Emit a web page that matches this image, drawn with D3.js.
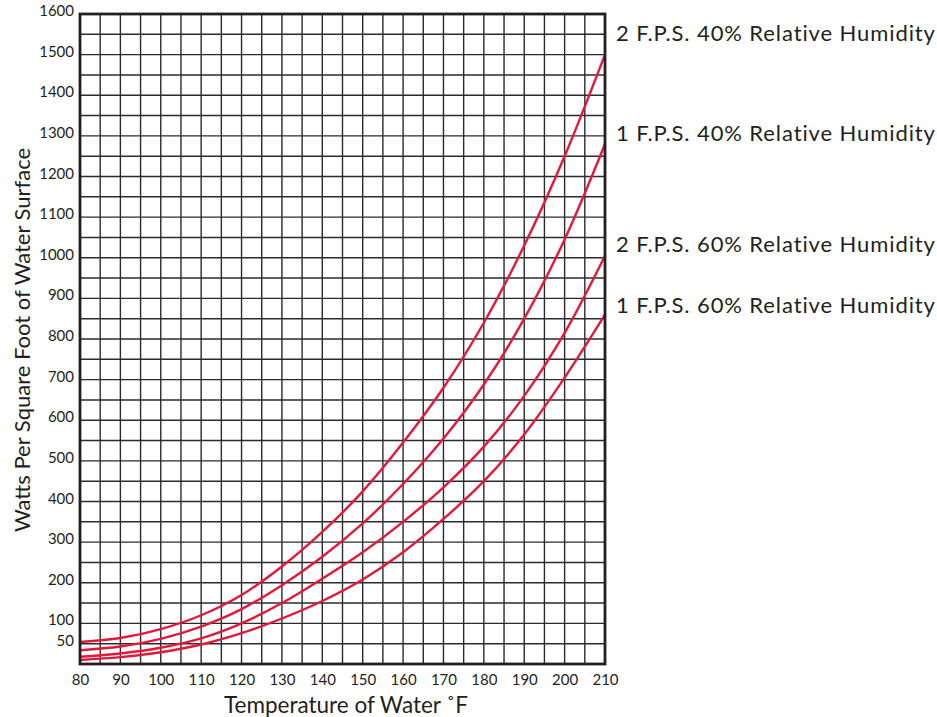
<!DOCTYPE html>
<html>
<head>
<meta charset="utf-8">
<script src="https://cdn.jsdelivr.net/npm/d3@7"></script>
<style>
  html, body { margin: 0; padding: 0; background: #fff; }
  svg { display: block; }
  text { font-family: Lato, "Open Sans", sans-serif; fill: #231f20; }
</style>
</head>
<body>
<svg id="chart" width="937" height="717"></svg>
<script>
// ---- data ----
const temps = [80, 90, 100, 110, 120, 130, 140, 150, 160, 170, 180, 190, 200, 210];
const fps2rh40 = [54, 64, 86, 120, 170, 240, 325, 425, 545, 680, 840, 1030, 1250, 1500];
const fps1rh40 = [34, 43, 62, 92, 135, 194, 264, 346, 443, 555, 688, 850, 1045, 1280];
const fps2rh60 = [18, 26, 40, 63, 100, 150, 210, 275, 350, 435, 535, 660, 815, 1005];
const fps1rh60 = [10, 17, 29, 48, 76, 112, 155, 208, 275, 357, 450, 565, 705, 860];
const seriesNames = ["2 F.P.S. 40% Relative Humidity", "1 F.P.S. 40% Relative Humidity",
                     "2 F.P.S. 60% Relative Humidity", "1 F.P.S. 60% Relative Humidity"];
const xTicks = [80, 90, 100, 110, 120, 130, 140, 150, 160, 170, 180, 190, 200, 210];
const yTicks = [50, 100, 200, 300, 400, 500, 600, 700, 800, 900, 1000, 1100, 1200, 1300, 1400, 1500, 1600];

const series = [fps2rh40, fps1rh40, fps2rh60, fps1rh60];

// ---- layout ----
const margin = {left: 80, top: 14, right: 332, bottom: 53};
const W = 937, H = 717;
const iw = W - margin.left - margin.right;
const ih = H - margin.top - margin.bottom;

const svg = d3.select("#chart");
const g = svg.append("g").attr("transform", `translate(${margin.left},${margin.top})`);

const x = d3.scaleLinear().domain([80, 210]).range([0, iw]);
const y = d3.scaleLinear().domain([0, 1600]).range([ih, 0]);

// grid
const gx = d3.range(80, 211, 5);
const gy = d3.range(0, 1601, 50);
g.append("g").selectAll("line").data(gx).join("line")
  .attr("x1", d => x(d)).attr("x2", d => x(d))
  .attr("y1", 0).attr("y2", ih)
  .attr("stroke", "#2b2b2b").attr("stroke-width", 1.4);
g.append("g").selectAll("line").data(gy).join("line")
  .attr("x1", 0).attr("x2", iw)
  .attr("y1", d => y(d)).attr("y2", d => y(d))
  .attr("stroke", "#2b2b2b").attr("stroke-width", 1.4);

// curves
const line = d3.line()
  .x((d, i) => x(temps[i]))
  .y(d => y(d))
  .curve(d3.curveCatmullRom.alpha(0.5));
g.append("g").selectAll("path").data(series).join("path")
  .attr("d", d => line(d))
  .attr("fill", "none")
  .attr("stroke", "#e3193c")
  .attr("stroke-width", 2.4);

// frame
g.append("rect").attr("x", 0).attr("y", 0).attr("width", iw).attr("height", ih)
  .attr("fill", "none").attr("stroke", "#231f20").attr("stroke-width", 2.8);

// axes (labels only)
const xAxis = d3.axisBottom(x).tickValues(xTicks).tickSize(0).tickPadding(10);
const xa = g.append("g").attr("transform", `translate(0,${ih})`).call(xAxis);
xa.select(".domain").remove();
xa.selectAll("text").style("font-size", "15px").style("font-family", "Lato, sans-serif").attr("fill", "#231f20");

const yAxis = d3.axisLeft(y).tickValues(yTicks).tickFormat(d3.format("d")).tickSize(0).tickPadding(6);
const ya = g.append("g").call(yAxis);
ya.select(".domain").remove();
ya.selectAll("text").style("font-size", "15px").style("font-family", "Lato, sans-serif").attr("fill", "#231f20")
  .attr("dy", "0.1em");

// axis titles
svg.append("text")
  .attr("x", 346).attr("y", 713)
  .attr("text-anchor", "middle").style("font-size", "22.5px")
  .text("Temperature of Water ˚F");
svg.append("text")
  .attr("transform", `translate(30,340) rotate(-90)`)
  .attr("text-anchor", "middle").style("font-size", "22px")
  .text("Watts Per Square Foot of Water Surface");

// series labels
const labelY = [41, 141, 252, 313];
svg.append("g").selectAll("text").data(seriesNames).join("text")
  .attr("x", 616).attr("y", (d, i) => labelY[i])
  .style("font-size", "22px")
  .style("letter-spacing", "0.9px")
  .text(d => d);
</script>
</body>
</html>
